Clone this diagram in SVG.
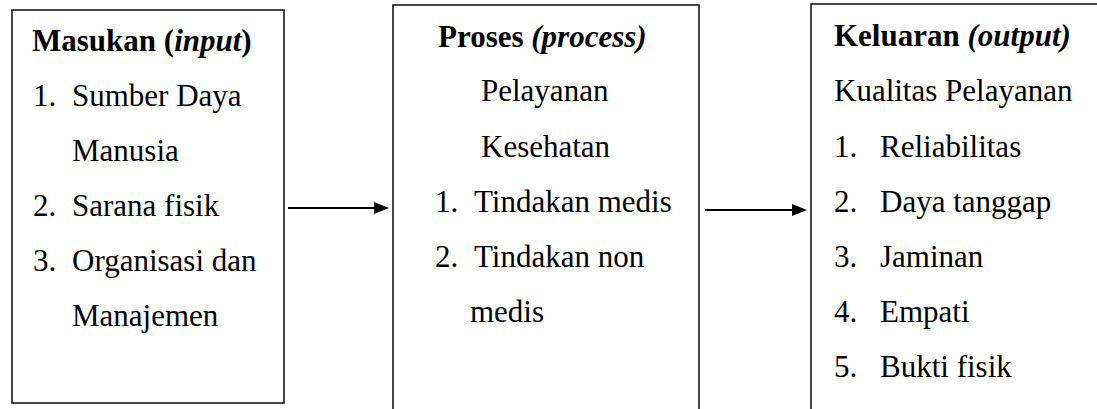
<svg xmlns="http://www.w3.org/2000/svg" width="1097" height="409" viewBox="0 0 1097 409" font-family="serif">
<rect width="1097" height="409" fill="#fff"/>
<g id="masukan">
<rect x="12" y="10" width="272" height="393" fill="none" stroke="#1a1a1a" stroke-width="1.6"/>
<text x="32" y="51" font-size="31" font-family="serif" font-weight="bold">Masukan (<tspan font-style="italic">input</tspan>)</text>
<text x="33" y="106" font-size="31" font-family="serif">1.</text>
<text x="72" y="106" font-size="31" font-family="serif">Sumber Daya</text>
<text x="72" y="161" font-size="31" font-family="serif">Manusia</text>
<text x="33" y="216" font-size="31" font-family="serif">2.</text>
<text x="72" y="216" font-size="31" font-family="serif">Sarana fisik</text>
<text x="33" y="271" font-size="31" font-family="serif">3.</text>
<text x="72" y="271" font-size="31" font-family="serif">Organisasi dan</text>
<text x="72" y="326" font-size="31" font-family="serif">Manajemen</text>
</g>
<g id="proses">
<rect x="393" y="5" width="306" height="410" fill="none" stroke="#1a1a1a" stroke-width="1.6"/>
<text x="438" y="47" font-size="31" font-family="serif" font-weight="bold">Proses <tspan font-style="italic">(process)</tspan></text>
<text x="481" y="101" font-size="31" font-family="serif">Pelayanan</text>
<text x="481" y="157" font-size="31" font-family="serif">Kesehatan</text>
<text x="435" y="212" font-size="31" font-family="serif">1.</text>
<text x="474" y="212" font-size="31" font-family="serif">Tindakan medis</text>
<text x="435" y="267" font-size="31" font-family="serif">2.</text>
<text x="474" y="267" font-size="31" font-family="serif">Tindakan non</text>
<text x="470" y="322" font-size="31" font-family="serif">medis</text>
</g>
<g id="keluaran">
<rect x="811" y="4" width="300" height="420" fill="none" stroke="#1a1a1a" stroke-width="1.6"/>
<text x="834" y="46" font-size="31" font-family="serif" font-weight="bold">Keluaran <tspan font-style="italic">(output)</tspan></text>
<text x="834" y="101" font-size="31" font-family="serif">Kualitas Pelayanan</text>
<text x="834" y="157" font-size="31" font-family="serif">1.</text>
<text x="880" y="157" font-size="31" font-family="serif">Reliabilitas</text>
<text x="834" y="212" font-size="31" font-family="serif">2.</text>
<text x="880" y="212" font-size="31" font-family="serif">Daya tanggap</text>
<text x="834" y="267" font-size="31" font-family="serif">3.</text>
<text x="880" y="267" font-size="31" font-family="serif">Jaminan</text>
<text x="834" y="322" font-size="31" font-family="serif">4.</text>
<text x="880" y="322" font-size="31" font-family="serif">Empati</text>
<text x="834" y="377" font-size="31" font-family="serif">5.</text>
<text x="880" y="377" font-size="31" font-family="serif">Bukti fisik</text>
</g>
<g id="connectors">
<line x1="288" y1="208" x2="374" y2="208" stroke="#000" stroke-width="2"/>
<path d="M374,202 L389,208 L374,214 Z" fill="#000"/>
<line x1="705" y1="210" x2="792" y2="210" stroke="#000" stroke-width="2"/>
<path d="M792,204 L807,210 L792,216 Z" fill="#000"/>
</g>
</svg>
